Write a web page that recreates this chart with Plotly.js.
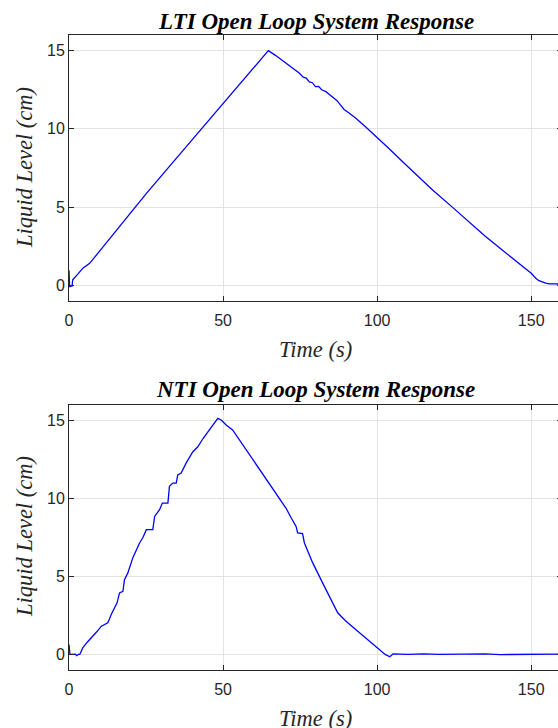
<!DOCTYPE html>
<html>
<head>
<meta charset="utf-8">
<script src="https://cdn.plot.ly/plotly-3.0.1.min.js"></script>
<style>
  html, body { margin: 0; padding: 0; overflow: hidden; background: #fff; }
  #chart { width: 562px; height: 728px; }
</style>
</head>
<body>
<div id="chart"></div>
<script>
// ---- Data ----
const ltiTime = [0, 0.2, 0.5, 1.0, 1.2, 2, 3, 4.5, 6.7, 10, 16.4, 20, 25, 32.6, 40, 45, 49.9, 55, 60, 64.7,
  67, 70.4, 72, 74.8, 76, 77, 78, 79, 80, 81, 82, 83.4, 84.5, 86, 87, 88, 89.3, 91, 93, 96.4, 99.8,
  104, 108.2, 112.6, 118, 124.4, 130, 135, 140.6, 145, 150, 151.5, 152.5, 154.7, 156, 158, 160];
const ltiLevel = [0.96, -0.1, -0.05, -0.05, 0.35, 0.5, 0.75, 1.1, 1.41, 2.2, 3.76, 4.7, 5.85, 7.6, 9.3, 10.45, 11.56, 12.75, 13.9, 15.0,
  14.7, 14.2, 14.0, 13.55, 13.3, 13.25, 13.0, 12.95, 12.7, 12.72, 12.5, 12.38, 12.2, 11.95, 11.8, 11.55, 11.24, 11.0, 10.7, 10.1, 9.5,
  8.72, 7.92, 7.1, 6.1, 5.0, 4.0, 3.15, 2.26, 1.55, 0.77, 0.45, 0.3, 0.14, 0.1, 0.09, 0.08];

const ntiTime = [0, 0.3, 1, 2, 2.5, 3, 3.5, 4.5, 6, 7.8, 9, 10.5, 12.6, 13.2, 13.7, 15.6, 16.4, 17.5, 18.0, 19.1,
  20.7, 22.9, 24, 25.1, 27.2, 27.8, 29.4, 30.3, 32.1, 32.6, 33.7, 34.8, 35.3, 36.4, 38.0, 40.2, 41.8, 43.5, 45.6, 47,
  48.3, 49.4, 51.0, 53.1, 55.3, 58, 60.7, 63, 66.1, 68.3, 70.4, 72, 73.7, 74.2, 75.8, 76.4, 79.1, 82.3, 84.5, 85.5,
  87.2, 89.9, 93, 96.4, 100.1, 102.6, 104.1, 105.2, 110, 115, 120, 125, 130, 135, 140, 145, 150, 155, 160];
const ntiLevel = [0.64, 0.0, 0.0, 0.02, -0.08, 0.0, 0.0, 0.43, 0.8, 1.17, 1.45, 1.81, 2.03, 2.3, 2.56, 3.31, 3.95, 4.05, 4.8, 5.23,
  6.19, 7.15, 7.5, 8.0, 8.0, 8.85, 9.28, 9.71, 9.71, 10.78, 10.99, 10.99, 11.52, 11.63, 12.27, 13.0, 13.32, 13.85, 14.4, 14.75,
  15.15, 15.04, 14.72, 14.4, 13.76, 13.0, 12.27, 11.6, 10.67, 10.03, 9.39, 8.8, 8.21, 7.79, 7.75, 7.15, 5.87, 4.59, 3.7, 3.31,
  2.67, 2.13, 1.6, 1.07, 0.43, 0.0, -0.15, 0.04, 0.0, 0.03, 0.0, 0.02, 0.0, 0.03, -0.01, 0.0, 0.02, 0.0, 0.02];

const xTickVals = [0, 50, 100, 150];
const yTickVals = [0, 5, 10, 15];
const titles = ['LTI Open Loop System Response', 'NTI Open Loop System Response'];
const xLabel = 'Time (s)';
const yLabel = 'Liquid Level (cm)';

// ---- Styling ----
const H = 728;
const serif = '"Liberation Serif", "Times New Roman", serif';
const sans = '"Liberation Sans", Arial, sans-serif';
const axisColor = '#262626';

function xAxis(anchor) {
  return {
    anchor: anchor, domain: [0, 1], range: [0, 160],
    tickvals: xTickVals, ticks: 'inside', ticklen: 5, tickcolor: axisColor,
    showline: true, linecolor: axisColor, linewidth: 1, mirror: 'ticks',
    showgrid: true, gridcolor: '#e3e3e3', gridwidth: 1, zeroline: false,
    ticklabelstandoff: 5,
    tickfont: { family: sans, size: 16, color: axisColor }
  };
}
function yAxis(anchor, domain) {
  return {
    anchor: anchor, domain: domain, range: [-1, 16],
    tickvals: yTickVals, ticks: 'inside', ticklen: 5, tickcolor: axisColor,
    showline: true, linecolor: axisColor, linewidth: 1, mirror: 'ticks',
    showgrid: true, gridcolor: '#e3e3e3', gridwidth: 1, zeroline: false,
    tickfont: { family: sans, size: 16, color: axisColor }
  };
}
const topDom = [(H - 301) / H, (H - 35) / H];
const botDom = [(H - 670) / H, (H - 405) / H];

const traces = [
  { x: ltiTime, y: ltiLevel, xaxis: 'x', yaxis: 'y', type: 'scatter', mode: 'lines',
    line: { color: '#0000ff', width: 1.3 }, hoverinfo: 'x+y' },
  { x: ntiTime, y: ntiLevel, xaxis: 'x2', yaxis: 'y2', type: 'scatter', mode: 'lines',
    line: { color: '#0000ff', width: 1.3 }, hoverinfo: 'x+y' }
];

function ann(text, x, yPix, opts) {
  return Object.assign({
    text: text, xref: 'paper', yref: 'paper', x: x, y: 1 - yPix / H,
    xanchor: 'center', yanchor: 'middle', showarrow: false
  }, opts);
}
const titleFont = { family: serif, size: 23, color: '#000', weight: 'bold', style: 'italic' };
const labelFont = { family: serif, size: 22.5, color: axisColor, style: 'italic' };

const annotations = [
  ann(titles[0], 0.5, 21, { font: titleFont }),
  ann(titles[1], 0.5, 389, { font: titleFont }),
  ann(xLabel, 0.5, 349, { font: labelFont }),
  ann(xLabel, 0.5, 718, { font: labelFont }),
  ann(yLabel, -45 / 493, 168, { font: labelFont, textangle: -90 }),
  ann(yLabel, -45 / 493, 537, { font: labelFont, textangle: -90 })
];

const layout = {
  width: 562, height: H,
  margin: { l: 69, r: 0, t: 0, b: 0, pad: 0 },
  paper_bgcolor: '#ffffff', plot_bgcolor: '#ffffff',
  showlegend: false,
  xaxis: xAxis('y'), yaxis: yAxis('x', topDom),
  xaxis2: xAxis('y2'), yaxis2: yAxis('x2', botDom),
  annotations: annotations
};

Plotly.newPlot('chart', traces, layout, { displayModeBar: false, staticPlot: true });
</script>
</body>
</html>
